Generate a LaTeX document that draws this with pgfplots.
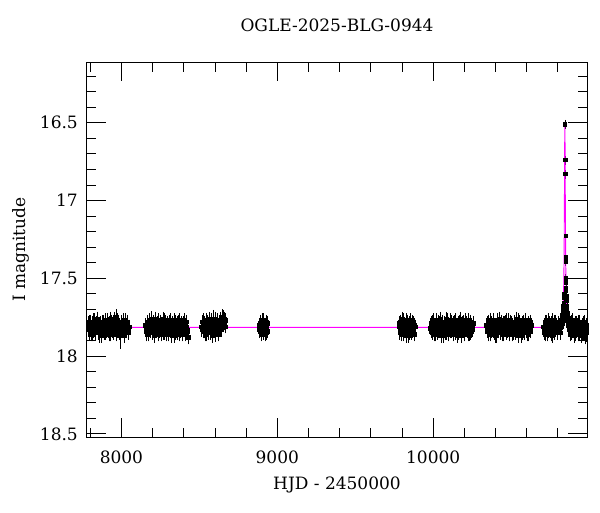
\documentclass[border=0pt]{standalone}
\usepackage{fontspec}
\setmainfont{DejaVu Serif}
\usepackage{pgfplots}
\pgfplotsset{compat=1.18}
\definecolor{model}{RGB}{255,0,255}
\newcommand\fs{\fontsize{17}{20}\selectfont}
\begin{document}
\begin{tikzpicture}
\begin{axis}[
 at={(0,0)}, anchor=south west,
 scale only axis, width=500pt, height=375pt,
 xmin=7779, xmax=10987, ymin=16.11, ymax=18.52, y dir=reverse,
 xtick={8000,9000,10000}, minor xtick={7800,8000,...,10800},
 ytick={16.5,17,17.5,18,18.5}, minor ytick={16.2,16.3,...,18.55},
 major tick length=19pt, minor tick length=9.5pt,
 tick style={black, line width=0.8pt},
 axis line style={line width=1pt},
 /pgf/number format/assume math mode=true,
 /pgf/number format/1000 sep={},
 scaled ticks=false,
 ticklabel style={font=\fs},
 xticklabel style={anchor=base, inner sep=0pt, yshift=-26pt},
 yticklabel style={anchor=east, inner sep=0pt, xshift=-9pt},
 title={OGLE-2025-BLG-0944},
 title style={font=\fs, at={(axis description cs:0.5,1)}, anchor=base, yshift=25pt},
 xlabel={HJD - 2450000},
 xlabel style={font=\fs, at={(axis description cs:0.5,0)}, anchor=base, yshift=-52pt},
 ylabel={I magnitude},
 ylabel style={font=\fs, at={(axis description cs:-0.124,0.5)}, anchor=base},
 clip=true,
 every axis plot/.append style={},
]
% baseline photometry, first pass
\addplot[only marks, mark=square*, mark size=1.8pt, black,
 error bars/.cd, y dir=both, y fixed=0.028,
 error bar style={black, line width=0.8pt},
 error mark options={black, line width=0.8pt, mark size=2.6pt}]
coordinates {
(7785,17.82)(7791,17.79)(7797,17.85)(7803,17.78)(7809,17.83)(7815,17.86)(7821,17.77)(7827,17.81)(7833,17.84)(7839,17.79)
(7845,17.76)(7851,17.85)(7857,17.80)(7863,17.83)(7869,17.87)(7875,17.78)(7881,17.82)(7887,17.80)(7893,17.85)(7899,17.77)
(7905,17.84)(7911,17.79)(7917,17.82)(7923,17.86)(7929,17.76)(7935,17.81)(7941,17.84)(7947,17.78)(7953,17.83)(7959,17.80)
(7965,17.86)(7971,17.77)(7977,17.82)(7983,17.79)(7989,17.85)(7995,17.81)(8001,17.78)(8007,17.84)(8013,17.80)(8019,17.87)
(8025,17.77)(8031,17.83)(8037,17.79)(8043,17.85)(8049,17.81)
(8152,17.80)(8158,17.84)(8164,17.78)(8170,17.83)(8176,17.86)(8182,17.79)(8188,17.82)(8194,17.76)(8200,17.85)(8206,17.80)
(8212,17.87)(8218,17.78)(8224,17.83)(8230,17.81)(8236,17.77)(8242,17.84)(8248,17.79)(8254,17.86)(8260,17.82)(8266,17.76)
(8272,17.80)(8278,17.85)(8284,17.78)(8290,17.83)(8296,17.79)(8302,17.86)(8308,17.81)(8314,17.77)(8320,17.84)(8326,17.80)
(8332,17.82)(8338,17.87)(8344,17.78)(8350,17.83)(8356,17.79)(8362,17.85)(8368,17.81)(8374,17.77)(8380,17.84)(8386,17.80)
(8392,17.86)(8398,17.79)(8404,17.82)(8410,17.85)(8416,17.78)(8422,17.83)(8428,17.88)
(8512,17.81)(8518,17.78)(8524,17.84)(8530,17.79)(8536,17.86)(8542,17.77)(8548,17.82)(8554,17.80)(8560,17.85)(8566,17.76)
(8572,17.83)(8578,17.79)(8584,17.87)(8590,17.78)(8596,17.82)(8602,17.85)(8608,17.80)(8614,17.77)(8620,17.84)(8626,17.79)
(8632,17.82)(8638,17.76)(8644,17.80)(8650,17.78)(8656,17.75)(8662,17.79)(8668,17.77)
(8882,17.80)(8888,17.84)(8894,17.78)(8900,17.86)(8906,17.82)(8912,17.77)(8918,17.83)(8924,17.80)(8930,17.85)(8936,17.79)
(9779,17.81)(9785,17.85)(9791,17.78)(9797,17.83)(9803,17.76)(9809,17.86)(9815,17.80)(9821,17.84)(9827,17.77)(9833,17.82)
(9839,17.87)(9845,17.79)(9851,17.83)(9857,17.80)(9863,17.85)(9869,17.78)(9875,17.82)(9881,17.80)
(9980,17.82)(9986,17.79)(9992,17.85)(9998,17.78)(10004,17.83)(10010,17.80)(10016,17.86)(10022,17.77)(10028,17.82)(10034,17.84)
(10040,17.79)(10046,17.81)(10052,17.87)(10058,17.78)(10064,17.83)(10070,17.80)(10076,17.85)(10082,17.76)(10088,17.82)(10094,17.79)
(10100,17.86)(10106,17.81)(10112,17.77)(10118,17.84)(10124,17.80)(10130,17.83)(10136,17.78)(10142,17.85)(10148,17.81)(10154,17.87)
(10160,17.79)(10166,17.82)(10172,17.76)(10178,17.84)(10184,17.80)(10190,17.83)(10196,17.78)(10202,17.86)(10208,17.81)(10214,17.79)
(10220,17.84)(10226,17.77)(10232,17.82)(10238,17.85)(10244,17.80)(10250,17.83)(10256,17.79)
(10342,17.80)(10348,17.84)(10354,17.78)(10360,17.83)(10366,17.86)(10372,17.79)(10378,17.81)(10384,17.77)(10390,17.85)(10396,17.80)
(10402,17.82)(10408,17.87)(10414,17.78)(10420,17.83)(10426,17.76)(10432,17.84)(10438,17.80)(10444,17.86)(10450,17.79)(10456,17.82)
(10462,17.78)(10468,17.85)(10474,17.81)(10480,17.77)(10486,17.84)(10492,17.80)(10498,17.83)(10504,17.79)(10510,17.86)(10516,17.82)
(10522,17.78)(10528,17.85)(10534,17.80)(10540,17.83)(10546,17.77)(10552,17.84)(10558,17.81)(10564,17.87)(10570,17.79)(10576,17.82)
(10582,17.78)(10588,17.85)(10594,17.80)(10600,17.83)(10606,17.86)(10612,17.79)(10618,17.82)(10624,17.84)(10630,17.80)
(10706,17.81)(10712,17.85)(10718,17.78)(10724,17.83)(10730,17.80)(10736,17.86)(10742,17.77)(10748,17.82)(10754,17.84)(10760,17.79)
(10766,17.87)(10772,17.81)(10778,17.78)(10784,17.83)(10790,17.80)(10796,17.85)(10802,17.79)(10808,17.82)(10814,17.77)(10820,17.81)
(10824,17.78)(10828,17.76)(10831,17.74)(10833,17.72)(10835,17.70)(10836,17.68)(10838,17.66)(10839,17.62)
(10856,17.64)(10858,17.70)(10860,17.72)(10862,17.75)(10865,17.78)(10868,17.76)(10872,17.82)(10878,17.79)(10884,17.85)(10890,17.81)
(10896,17.77)(10902,17.84)(10908,17.80)(10914,17.86)(10920,17.79)(10926,17.83)(10932,17.78)(10938,17.85)(10944,17.81)(10950,17.87)
(10956,17.80)(10962,17.83)(10968,17.78)(10974,17.86)(10980,17.82)(10986,17.84)
};
% baseline photometry, second pass
\addplot[only marks, mark=square*, mark size=1.8pt, black,
 error bars/.cd, y dir=both, y fixed=0.028,
 error bar style={black, line width=0.8pt},
 error mark options={black, line width=0.8pt, mark size=2.6pt}]
coordinates {
(7788,17.83)(7794,17.78)(7800,17.81)(7806,17.86)(7812,17.79)(7818,17.84)(7824,17.77)(7830,17.82)(7836,17.85)(7842,17.80)
(7848,17.76)(7854,17.83)(7860,17.87)(7866,17.79)(7872,17.81)(7878,17.84)(7884,17.78)(7890,17.82)(7896,17.85)(7902,17.80)
(7908,17.77)(7914,17.84)(7920,17.79)(7926,17.82)(7932,17.86)(7938,17.78)(7944,17.81)(7950,17.85)(7956,17.76)(7962,17.83)
(7968,17.80)(7974,17.84)(7980,17.78)(7986,17.82)(7992,17.87)(7998,17.79)(8004,17.83)(8010,17.77)(8016,17.81)(8022,17.85)
(8028,17.80)(8034,17.84)(8040,17.78)(8046,17.82)
(8155,17.82)(8161,17.86)(8167,17.79)(8173,17.81)(8179,17.77)(8185,17.84)(8191,17.80)(8197,17.83)(8203,17.78)(8209,17.85)
(8215,17.81)(8221,17.76)(8227,17.84)(8233,17.79)(8239,17.86)(8245,17.82)(8251,17.78)(8257,17.83)(8263,17.80)(8269,17.85)
(8275,17.77)(8281,17.82)(8287,17.86)(8293,17.80)(8299,17.83)(8305,17.78)(8311,17.84)(8317,17.81)(8323,17.87)(8329,17.79)
(8335,17.82)(8341,17.77)(8347,17.85)(8353,17.80)(8359,17.83)(8365,17.78)(8371,17.86)(8377,17.81)(8383,17.79)(8389,17.84)
(8395,17.82)(8401,17.77)(8407,17.80)(8413,17.86)(8419,17.81)(8425,17.84)
(8515,17.83)(8521,17.80)(8527,17.77)(8533,17.84)(8539,17.81)(8545,17.86)(8551,17.78)(8557,17.83)(8563,17.80)(8569,17.85)
(8575,17.77)(8581,17.82)(8587,17.79)(8593,17.84)(8599,17.81)(8605,17.76)(8611,17.83)(8617,17.80)(8623,17.86)(8629,17.78)
(8635,17.81)(8641,17.83)(8647,17.77)(8653,17.80)(8659,17.76)(8665,17.81)
(8885,17.83)(8891,17.79)(8897,17.82)(8903,17.77)(8909,17.85)(8915,17.80)(8921,17.86)(8927,17.78)(8933,17.82)(8939,17.84)
(9782,17.79)(9788,17.83)(9794,17.86)(9800,17.80)(9806,17.82)(9812,17.77)(9818,17.84)(9824,17.81)(9830,17.87)(9836,17.78)
(9842,17.82)(9848,17.85)(9854,17.77)(9860,17.81)(9866,17.84)(9872,17.79)(9878,17.86)(9884,17.81)
(9983,17.80)(9989,17.84)(9995,17.81)(10001,17.77)(10007,17.86)(10013,17.82)(10019,17.79)(10025,17.85)(10031,17.78)(10037,17.83)
(10043,17.80)(10049,17.76)(10055,17.84)(10061,17.81)(10067,17.87)(10073,17.79)(10079,17.82)(10085,17.85)(10091,17.77)(10097,17.83)
(10103,17.80)(10109,17.84)(10115,17.78)(10121,17.82)(10127,17.86)(10133,17.79)(10139,17.81)(10145,17.77)(10151,17.84)(10157,17.80)
(10163,17.85)(10169,17.78)(10175,17.82)(10181,17.87)(10187,17.79)(10193,17.81)(10199,17.84)(10205,17.77)(10211,17.83)(10217,17.80)
(10223,17.86)(10229,17.79)(10235,17.81)(10241,17.78)(10247,17.84)(10253,17.82)
(10345,17.82)(10351,17.79)(10357,17.86)(10363,17.80)(10369,17.77)(10375,17.84)(10381,17.82)(10387,17.79)(10393,17.83)(10399,17.87)
(10405,17.80)(10411,17.77)(10417,17.84)(10423,17.81)(10429,17.85)(10435,17.78)(10441,17.82)(10447,17.80)(10453,17.86)(10459,17.79)
(10465,17.83)(10471,17.77)(10477,17.84)(10483,17.81)(10489,17.86)(10495,17.78)(10501,17.82)(10507,17.80)(10513,17.85)(10519,17.79)
(10525,17.83)(10531,17.76)(10537,17.84)(10543,17.81)(10549,17.87)(10555,17.78)(10561,17.82)(10567,17.80)(10573,17.85)(10579,17.79)
(10585,17.83)(10591,17.77)(10597,17.84)(10603,17.81)(10609,17.86)(10615,17.80)(10621,17.83)(10627,17.78)
(10709,17.83)(10715,17.80)(10721,17.86)(10727,17.78)(10733,17.82)(10739,17.84)(10745,17.79)(10751,17.81)(10757,17.86)(10763,17.77)
(10769,17.83)(10775,17.80)(10781,17.85)(10787,17.78)(10793,17.82)(10799,17.84)(10805,17.79)(10811,17.81)(10817,17.85)
(10826,17.79)(10830,17.76)(10834,17.73)(10837,17.69)(10857,17.68)(10859,17.74)(10861,17.77)(10863,17.80)
(10869,17.83)(10875,17.80)(10881,17.86)(10887,17.78)(10893,17.84)(10899,17.81)(10905,17.87)(10911,17.79)(10917,17.83)(10923,17.80)
(10929,17.86)(10935,17.82)(10941,17.78)(10947,17.84)(10953,17.81)(10959,17.86)(10965,17.79)(10971,17.83)(10977,17.88)(10983,17.80)
};
% points with larger errors
\addplot[only marks, mark=square*, mark size=1.8pt, black,
 error bars/.cd, y dir=both, y explicit,
 error bar style={black, line width=0.8pt},
 error mark options={black, line width=0.8pt, mark size=2.6pt}]
coordinates {
(7995,17.86) +- (0,0.075)
(7970,17.75) +- (0,0.035)
(8213,17.84) +- (0,0.045)
(8195,17.77) +- (0,0.04)
(8590,17.76) +- (0,0.04)
(8650,17.75) +- (0,0.035)
(8600,17.85) +- (0,0.04)
(10235,17.84) +- (0,0.045)
(10370,17.84) +- (0,0.045)
(10985,17.85) +- (0,0.04)
};
% event peak
\addplot[only marks, mark=square*, mark size=1.6pt, black,
 error bars/.cd, y dir=both, y fixed=0.012,
 error bar style={black, line width=0.8pt},
 error mark options={black, line width=0.8pt, mark size=2.6pt}]
coordinates {
(10845.2,16.51)(10846.6,16.74)(10847.1,16.83)(10848.9,17.225)(10850.2,17.36)(10850.6,17.39)
(10851.5,17.50)(10852,17.53)(10852.4,17.56)(10852.8,17.58)(10853.3,17.61)(10841,17.60)
};
% model
\addplot[model, line width=0.9pt, mark=none] coordinates {
(7779,17.815)(10775,17.815)(10800,17.814)(10815,17.810)(10823,17.800)(10828,17.780)(10832,17.739)
(10835,17.670)(10837,17.585)(10839,17.440)(10840,17.332)(10841,17.194)(10842,17.018)(10843,16.808)
(10843.5,16.700)(10844,16.602)(10844.5,16.531)(10845,16.505)(10845.5,16.531)(10846,16.602)(10846.5,16.700)
(10847,16.808)(10848,17.018)(10849,17.194)(10850,17.332)(10851,17.440)(10853,17.585)(10855,17.670)
(10858,17.739)(10862,17.780)(10867,17.800)(10875,17.810)(10890,17.814)(10915,17.815)(10990,17.815)
};
\end{axis}
\pgfresetboundingbox
\useasboundingbox (-87pt,-75pt) rectangle (513pt,437pt);
\end{tikzpicture}
\end{document}
